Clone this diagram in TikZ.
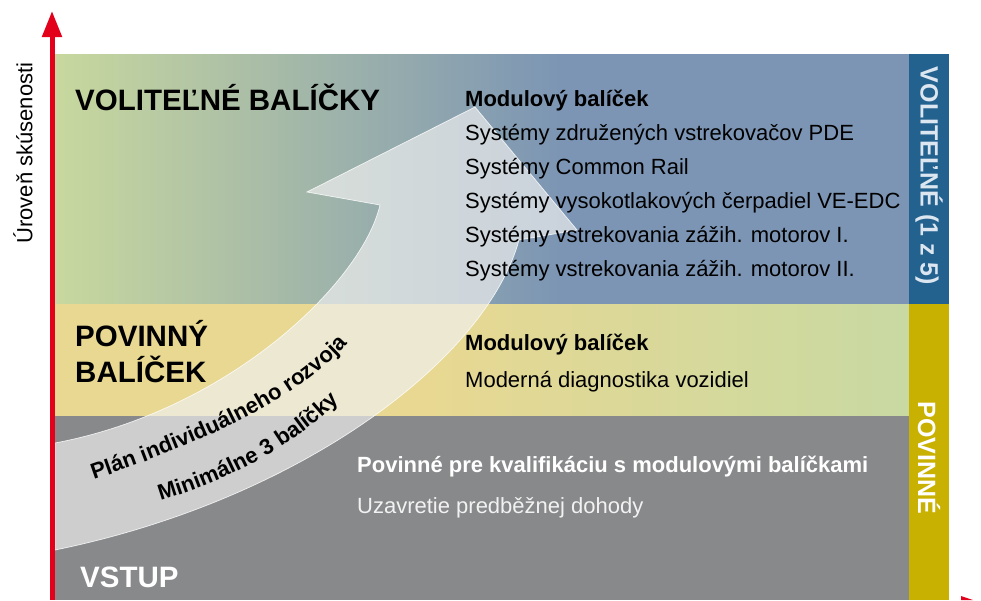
\documentclass[tikz,border=0pt]{standalone}
\usepackage{fontspec}
\setmainfont{Liberation Sans}
\usetikzlibrary{arrows.meta,decorations.text}

\definecolor{bandgreen}{RGB}{200,216,158}
\definecolor{bandblue}{RGB}{124,149,180}
\definecolor{bandyellow}{RGB}{232,216,146}
\definecolor{bandlime}{RGB}{200,217,162}
\definecolor{bandgray}{RGB}{136,137,139}
\definecolor{barblue}{RGB}{35,97,143}
\definecolor{barolive}{RGB}{201,177,2}
\definecolor{bartext}{RGB}{220,230,240}
\definecolor{axisred}{RGB}{226,0,26}

\newcommand\titlefont{\bfseries\fontsize{29.5}{32}\selectfont}
\newcommand\bodyfont{\fontsize{22}{26}\selectfont}
\newcommand\barfont{\bfseries\fontsize{25}{28}\selectfont}
\newcommand\curvefont{\bfseries\fontsize{22}{26}\selectfont}

\begin{document}
\begin{tikzpicture}[x=1pt,y=-1pt]
\tikzstyle{titre}=[font=\titlefont,anchor=base west,inner sep=0pt]
\tikzstyle{ligne}=[font=\bodyfont,anchor=base west,inner sep=0pt]
\tikzstyle{tete}=[font=\bodyfont\bfseries,anchor=base west,inner sep=0pt]
\tikzstyle{barre}=[font=\barfont,rotate=-90,inner sep=0pt]
\tikzstyle{fleche}=[fill=gray!12,fill opacity=.68,draw=white,draw opacity=.8,line width=.7pt]

\useasboundingbox (0,0) rectangle (981,600);

% bandes
\shade[left color=bandgreen,right color=bandblue] (55,54) rectangle (560,304);
\fill[bandblue] (559.5,54) rectangle (909,304);
\fill[bandyellow] (55,304) rectangle (430,416);
\shade[left color=bandyellow,right color=bandlime] (429.5,304) rectangle (909,416);
\fill[bandgray] (55,416) rectangle (909,600);
\fill[barblue] (909,54) rectangle (949,304);
\fill[barolive] (909,304) rectangle (949,600);

% grande fleche
\path[fleche] (55,443) .. controls (230,410) and (362,282) .. (380,205)
  -- (307,192) -- (475,107) -- (577,230) -- (519,240)
  .. controls (486,360) and (300,500) .. (55,550) -- cycle;

% axe
\coordinate (axisfoot) at (52,600);
\coordinate (axishead) at (52,11);
\draw[axisred,line width=5pt,-{Triangle[width=19pt,length=26pt]}] (axisfoot) -- (axishead);
\fill[axisred] (961,596) -- (973,600) -- (961,600) -- cycle;
\node[font=\bodyfont,rotate=90,inner sep=0pt] (niveau) at (23,153) {Úroveň skúsenosti};

\node[titre] (volitelne) at (75,110) {VOLITEĽNÉ BALÍČKY};
\node[titre] (povinny) at (75,346) {POVINNÝ};
\node[titre] (balicek) at (75,382) {BALÍČEK};
\node[titre,text=white] (vstup) at (80,587) {VSTUP};

\node[tete] (modul1) at (465,106) {Modulový balíček};
\node[ligne] (pde) at (465,140) {Systémy združených vstrekovačov PDE};
\node[ligne] (rail) at (465,174) {Systémy Common Rail};
\node[ligne] (vedc) at (465,208) {Systémy vysokotlakových čerpadiel VE-EDC};
\node[ligne] (motor1) at (465,242) {Systémy vstrekovania zážih. motorov I.};
\node[ligne] (motor2) at (465,276) {Systémy vstrekovania zážih. motorov II.};

\node[tete] (modul2) at (465,350) {Modulový balíček};
\node[ligne] (diag) at (465,387) {Moderná diagnostika vozidiel};

\node[tete,text=white] (kvalif) at (357,472) {Povinné pre kvalifikáciu s modulovými balíčkami};
\node[ligne,text=white!90!gray] (dohoda) at (357,513) {Uzavretie predběžnej dohody};

\node[barre,text=bartext] (volbar) at (929,176) {VOLITEĽNÉ (1 z 5)};
\node[barre,text=white] (povbar) at (929,458) {POVINNÉ};

\path[decorate,decoration={text along path,text align=center,
  text={|\curvefont|Plán individuálneho rozvoja}}]
  (82,484) .. controls (190,447) and (302,402) .. (356,334);
\path[decorate,decoration={text along path,text align=center,
  text={|\curvefont|Minimálne 3 balíčky}}]
  (146,505) .. controls (230,482) and (302,442) .. (350,390);

\end{tikzpicture}
\end{document}
